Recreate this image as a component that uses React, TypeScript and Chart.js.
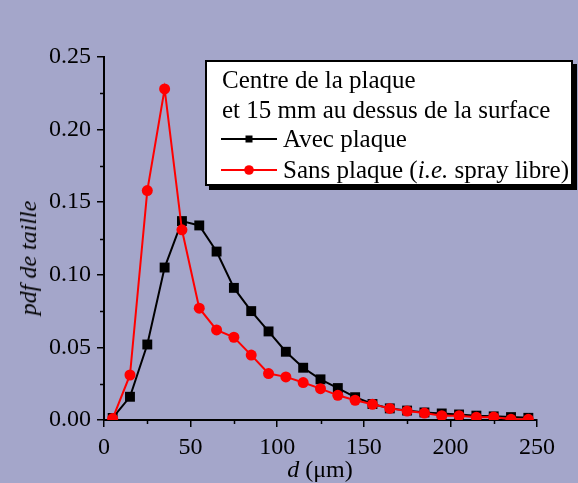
import React, { useEffect, useRef } from "react";
import { Chart, registerables } from "chart.js";

Chart.register(...registerables);

const diameters = [5, 15, 25, 35, 45, 55, 65, 75, 85, 95, 105, 115, 125, 135, 145, 155, 165, 175, 185, 195, 205, 215, 225, 235, 245];
const avecPlaque = [0.0014, 0.016, 0.052, 0.105, 0.137, 0.134, 0.116, 0.091, 0.075, 0.061, 0.047, 0.036, 0.028, 0.022, 0.0157, 0.011, 0.008, 0.0065, 0.0052, 0.0045, 0.0038, 0.003, 0.0025, 0.002, 0.0015];
const sansPlaque = [0.001, 0.031, 0.158, 0.228, 0.131, 0.077, 0.062, 0.057, 0.0447, 0.032, 0.0297, 0.0258, 0.0216, 0.017, 0.0136, 0.0108, 0.008, 0.0062, 0.0048, 0.003, 0.003, 0.0019, 0.002, 0.0005, 0.0005];
const xMajorTicks = [0, 50, 100, 150, 200, 250];
const xMinorTicks = [25, 75, 125, 175, 225];
const yMajorTicks = [0, 0.05, 0.1, 0.15, 0.2, 0.25];
const yMinorTicks = [0.025, 0.075, 0.125, 0.175, 0.225];

const BG = "rgb(164,166,202)";
const FONT = "'Liberation Serif', 'DejaVu Serif', serif";

const minorTicksPlugin = {
  id: "minorTicks",
  afterDraw(chart: any) {
    const { ctx, scales } = chart;
    const xs = scales.x;
    const ys = scales.y;
    ctx.save();
    ctx.strokeStyle = "#000";
    ctx.lineWidth = 1.5;
    ctx.beginPath();
    xMinorTicks.forEach((v) => {
      const px = Math.round(xs.getPixelForValue(v)) + 0.5;
      ctx.moveTo(px, ys.bottom);
      ctx.lineTo(px, ys.bottom + 4);
    });
    yMinorTicks.forEach((v) => {
      const py = Math.round(ys.getPixelForValue(v)) + 0.5;
      ctx.moveTo(xs.left, py);
      ctx.lineTo(xs.left - 4, py);
    });
    ctx.stroke();
    ctx.restore();
  },
};

function LegendSample({ color, shape }: { color: string; shape: "rect" | "circle" }) {
  return (
    <svg width={56} height={14} style={{ display: "inline-block", verticalAlign: "middle" }}>
      <line x1={0} y1={7} x2={56} y2={7} stroke={color} strokeWidth={2} />
      {shape === "rect" ? (
        <rect x={24.5} y={3.5} width={7} height={7} fill={color} />
      ) : (
        <circle cx={28} cy={7} r={4.8} fill={color} />
      )}
    </svg>
  );
}

export default function App() {
  const canvasRef = useRef<HTMLCanvasElement | null>(null);

  useEffect(() => {
    if (!canvasRef.current) return;
    const chart = new Chart(canvasRef.current, {
      type: "line",
      data: {
        datasets: [
          {
            label: "Sans plaque (i.e. spray libre)",
            data: diameters.map((d, i) => ({ x: d, y: sansPlaque[i] })),
            borderColor: "#ff0000",
            backgroundColor: "#ff0000",
            borderWidth: 2,
            pointStyle: "circle",
            pointRadius: 5.5,
            pointBorderWidth: 0,
            order: 0,
          },
          {
            label: "Avec plaque",
            data: diameters.map((d, i) => ({ x: d, y: avecPlaque[i] })),
            borderColor: "#000000",
            backgroundColor: "#000000",
            borderWidth: 2,
            pointStyle: "rect",
            pointRadius: 7,
            pointBorderWidth: 0,
            order: 1,
          },
        ],
      },
      options: {
        responsive: false,
        animation: false,
        layout: { padding: { top: 57, right: 41, left: 0, bottom: 0 } },
        plugins: { legend: { display: false }, tooltip: { enabled: false } },
        scales: {
          x: {
            type: "linear",
            min: 0,
            max: 250,
            afterFit: (s: any) => {
              s.height = 63;
            },
            afterBuildTicks: (s: any) => {
              s.ticks = xMajorTicks.map((v) => ({ value: v }));
            },
            ticks: {
              color: "#000",
              font: { family: FONT, size: 24 },
              maxRotation: 0,
              autoSkip: false,
              padding: 6,
              callback: (v: any) => String(v),
            },
            grid: {
              display: true,
              drawOnChartArea: false,
              drawTicks: true,
              tickLength: 7,
              color: "#000",
              lineWidth: 1.5,
            },
            border: { display: true, color: "#000", width: 2 },
          },
          y: {
            type: "linear",
            min: 0,
            max: 0.25,
            afterFit: (s: any) => {
              s.width = 104;
            },
            afterBuildTicks: (s: any) => {
              s.ticks = yMajorTicks.map((v) => ({ value: v }));
            },
            ticks: {
              color: "#000",
              font: { family: FONT, size: 24 },
              autoSkip: false,
              padding: 6,
              callback: (v: any) => Number(v).toFixed(2),
            },
            grid: {
              display: true,
              drawOnChartArea: false,
              drawTicks: true,
              tickLength: 7,
              color: "#000",
              lineWidth: 1.5,
            },
            border: { display: true, color: "#000", width: 2 },
          },
        },
      },
      plugins: [minorTicksPlugin],
    });
    return () => chart.destroy();
  }, []);

  const textStyle: React.CSSProperties = {
    position: "absolute",
    fontFamily: FONT,
    fontSize: 24,
    lineHeight: "24px",
    color: "#000",
    whiteSpace: "nowrap",
  };
  const legendText: React.CSSProperties = { ...textStyle, fontSize: 25, lineHeight: "25px" };

  return (
    <div style={{ position: "fixed", left: 0, top: 0, width: 578, height: 483, background: BG, overflow: "hidden" }}>
      <canvas ref={canvasRef} width={578} height={483} style={{ display: "block", position: "absolute", left: 0, top: 0 }} />
      {/* y axis title */}
      <div
        style={{
          ...textStyle,
          fontStyle: "italic",
          left: 28,
          top: 258,
          transform: "translate(-50%, -50%) rotate(-90deg)",
        }}
      >
        pdf de taille
      </div>
      {/* x axis title */}
      <div style={{ ...textStyle, left: 320, top: 457, transform: "translateX(-50%)" }}>
        <i>d</i> (μm)
      </div>
      {/* legend box */}
      <div
        style={{
          position: "absolute",
          left: 205,
          top: 60,
          width: 364,
          height: 122,
          background: "#fff",
          border: "2px solid #000",
          boxShadow: "4px 4px 0 #000",
        }}
      >
        <div style={{ ...legendText, left: 15, top: 5 }}>Centre de la plaque</div>
        <div style={{ ...legendText, left: 15, top: 35 }}>et 15 mm au dessus de la surface</div>
        <div style={{ ...legendText, left: 14, top: 64, display: "flex", alignItems: "center" }}>
          <LegendSample color="#000" shape="rect" />
          <span style={{ marginLeft: 6 }}>Avec plaque</span>
        </div>
        <div style={{ ...legendText, left: 14, top: 95, display: "flex", alignItems: "center" }}>
          <LegendSample color="#ff0000" shape="circle" />
          <span style={{ marginLeft: 6 }}>
            Sans plaque (<i>i.e.</i> spray libre)
          </span>
        </div>
      </div>
    </div>
  );
}
